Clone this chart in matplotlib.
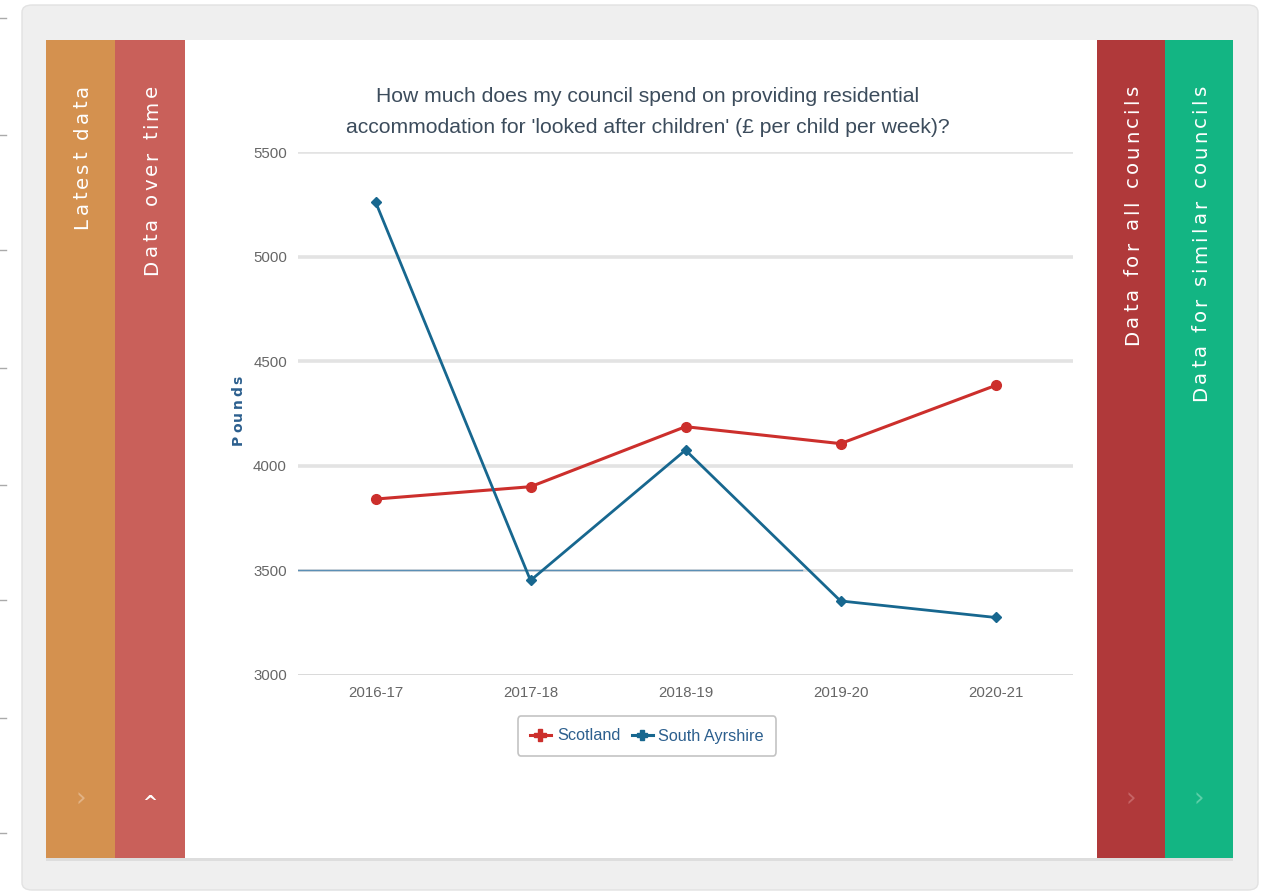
import matplotlib
matplotlib.use("Agg")
import matplotlib.pyplot as plt
from matplotlib import font_manager
from matplotlib.font_manager import FontProperties
from matplotlib.patches import Rectangle, FancyBboxPatch
from matplotlib.lines import Line2D
from matplotlib.textpath import TextToPath

# ---- data ----
years = ['2016-17', '2017-18', '2018-19', '2019-20', '2020-21']
scotland = [3841, 3900, 4187, 4106, 4384]
south_ayrshire = [5262, 3452, 4075, 3354, 3275]
y_ticks = [3000, 3500, 4000, 4500, 5000, 5500]
series_names = ['Scotland', 'South Ayrshire']
title = ("How much does my council spend on providing residential\n"
         "accommodation for 'looked after children' (£ per child per week)?")
tabs_left = ['Latest data', 'Data over time']
tabs_right = ['Data for all councils', 'Data for similar councils']
y_label = 'Pounds'

# ---- fonts ----
names = {f.name for f in font_manager.fontManager.ttflist}
narrow = 'Liberation Sans Narrow' if 'Liberation Sans Narrow' in names else 'Liberation Sans'
narrow_scale = 1.0 if narrow == 'Liberation Sans Narrow' else 0.87

W, H = 1265, 894
DPI = 100
fig = plt.figure(figsize=(W / DPI, H / DPI), dpi=DPI)
fig.patch.set_facecolor('white')
ttp = TextToPath()


def fx(x):
    return x / W


def fy(y):
    return 1 - y / H


def rect(x0, y0, x1, y1, color, z=0, **kw):
    fig.patches.append(Rectangle((fx(x0), fy(y1)), fx(x1) - fx(x0), fy(y0) - fy(y1),
                                 transform=fig.transFigure, facecolor=color,
                                 edgecolor='none', zorder=z, **kw))


def adv_px(ch, fp):
    w1 = ttp.get_text_width_height_descent('|' + ch + '|', fp, ismath=False)[0]
    w0 = ttp.get_text_width_height_descent('||', fp, ismath=False)[0]
    return (w1 - w0) * DPI / 72.0


def spaced_vtext(xc, ytop, s, fp, spacing, color):
    """Vertical (bottom-to-top) text with letter spacing; top end at ytop (px)."""
    advs = [adv_px(c, fp) for c in s]
    total = sum(advs) + spacing * (len(s) - 1)
    cap = 0.72 * fp.get_size_in_points() * DPI / 72.0
    xb = xc + cap / 2.0
    off = 0.0
    for c, a in zip(s, advs):
        if c != ' ':
            fig.text(fx(xb), fy(ytop + total - off), c, rotation=90, rotation_mode='anchor',
                     ha='left', va='baseline', color=color, fontproperties=fp, zorder=3)
        off += a + spacing


# outer grey panel
fig.patches.append(FancyBboxPatch((fx(22), fy(890)), fx(1258) - fx(22), fy(5) - fy(890),
                                  boxstyle="round,pad=0,rounding_size=0.008",
                                  transform=fig.transFigure, facecolor='#efefef',
                                  edgecolor='#e2e2e2', linewidth=1, zorder=0))
rect(46, 858, 1233, 861, '#dddddd', z=1)
rect(185, 40, 1097, 858, 'white', z=1)
strip_cols = ['#d4914f', '#c9605a', '#b0393a', '#13b583']
strip_x = [(46, 115), (115, 185), (1097, 1165), (1165, 1233)]
for (x0, x1), c in zip(strip_x, strip_cols):
    rect(x0, 40, x1, 858, c, z=1)

tab_fp = FontProperties(family='DejaVu Sans', size=14.2)
for (x0, x1), lab in zip(strip_x, tabs_left + tabs_right):
    spaced_vtext((x0 + x1) / 2, 85, lab, tab_fp, 3.2, 'white')

# chevrons
chev = [('›', '#e2b386', 46, 115, 19), ('^', 'white', 115, 185, 13),
        ('›', '#c66566', 1097, 1165, 19), ('›', '#5ccfa8', 1165, 1233, 19)]
for ch, c, x0, x1, fs in chev:
    fig.text(fx((x0 + x1) / 2), fy(800 if ch != '^' else 803), ch, ha='center', va='center',
             color=c, fontsize=fs, fontweight='normal' if ch == '›' else 'bold',
             family='DejaVu Sans', zorder=3)

# page tick marks at left edge
for yy in [18, 135, 250, 368, 485, 600, 718, 833]:
    fig.lines.append(Line2D([fx(0), fx(6)], [fy(yy), fy(yy)], transform=fig.transFigure,
                            color='#aaaaaa', lw=1))

# ---- chart ----
left, right, top, bottom = 298, 1073, 152, 675
ax = fig.add_axes([fx(left), fy(bottom), fx(right) - fx(left), fy(top) - fy(bottom)])
ax.set_zorder(2)
ax.patch.set_alpha(0)
x = list(range(len(years)))
red = '#cc2f2c'
blue = '#17678f'

ax.set_xlim(-0.5, len(years) - 0.5)
ax.set_ylim(y_ticks[0], y_ticks[-1])
ax.set_yticks(y_ticks)
ax.set_xticks(x)
ax.set_xticklabels(years)
for s in ax.spines.values():
    s.set_visible(False)
ax.tick_params(length=0, labelsize=11.5 * narrow_scale + (0 if narrow_scale == 1 else 0.8),
               labelcolor='#666666', pad=8)
for lab in ax.get_xticklabels() + ax.get_yticklabels():
    lab.set_family(narrow)

for yv in y_ticks:
    if yv == y_ticks[0]:
        ax.axhline(yv, color='#cfcfcf', lw=1.8, zorder=1)
    elif yv == 3500:
        ax.axhline(yv, color='#dedede', lw=2.0, zorder=1)
        ax.axhline(yv, xmin=0, xmax=0.65, color='#5b8fb5', lw=1.0, zorder=1.2)
    else:
        ax.axhline(yv, color='#e3e3e3', lw=2.6, zorder=1)

ax.plot(x, scotland, color=red, lw=2.2, marker='o', ms=7, zorder=3, label=series_names[0])
ax.plot(x, south_ayrshire, color=blue, lw=2.0, marker='D', ms=5, zorder=3,
        label=series_names[1])

fig.text(fx(648), fy(112), title, ha='center', va='center',
         fontsize=17.5 * narrow_scale, family=narrow, color='#3c4c5c', linespacing=1.75)

spaced_vtext(237, 376, y_label,
             FontProperties(family='DejaVu Sans', weight='bold', size=10), 2.2, '#2c5f8e')

h1 = Line2D([], [], color=red, lw=2.2, marker='P', ms=8)
h2 = Line2D([], [], color=blue, lw=2.2, marker='P', ms=7)
leg = fig.legend([h1, h2], series_names, loc='center', bbox_to_anchor=(fx(647), fy(736)),
                 ncol=2, frameon=True, fancybox=True, shadow=False, handlelength=1.3,
                 handletextpad=0.35, columnspacing=0.7, borderpad=0.75,
                 prop={'family': narrow, 'size': 13.5 * narrow_scale})
leg.get_frame().set_edgecolor('#b5b5b5')
leg.get_frame().set_linewidth(1.2)
for t in leg.get_texts():
    t.set_color('#2c5f8e')

fig.savefig('out.png', dpi=DPI, facecolor='white')
